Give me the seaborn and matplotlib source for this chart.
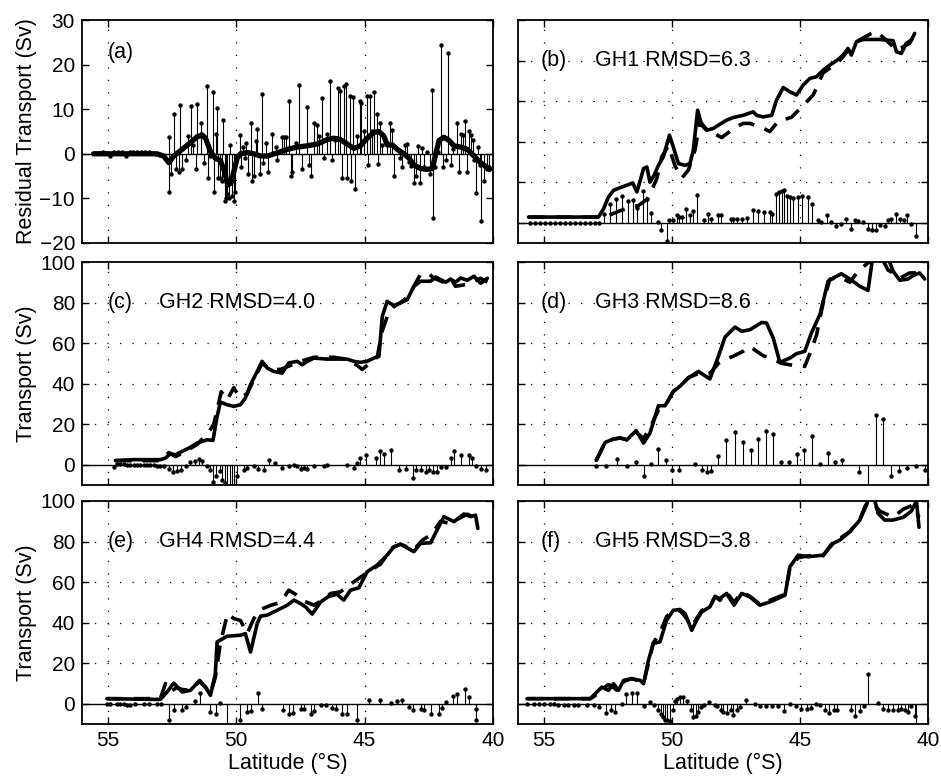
import numpy as np
import pandas as pd
import matplotlib
matplotlib.use("Agg")
import matplotlib.pyplot as plt
import seaborn as sns

# ---------------- DATA ----------------
# (a) residual transport stems and smoothed residual
a_stem_lat = [55.50, 55.35, 55.20, 55.05, 54.90, 54.75, 54.60, 54.45, 54.30, 54.15, 54.00, 53.85,
              53.70, 53.55, 53.40, 53.25, 53.10, 52.95, 52.80,
              52.62, 52.60, 52.53, 52.42, 52.34, 52.23, 52.18, 52.10, 51.95, 51.87, 51.74, 51.66,
              51.57, 51.51, 51.38, 51.35, 51.27, 51.14, 51.10, 51.01, 50.91, 50.87, 50.78, 50.75,
              50.71, 50.61, 50.56, 50.52, 50.45, 50.40, 50.34, 50.27, 50.25, 50.18, 50.09, 50.03,
              49.86, 49.80, 49.75, 49.66, 49.60, 49.55, 49.44, 49.39, 49.31, 49.23, 49.17, 49.08,
              49.01, 48.94, 48.83, 48.75, 48.60, 48.45, 48.40, 48.21, 48.12, 48.05, 47.94, 47.87,
              47.81, 47.68, 47.55, 47.45, 47.26, 47.18, 47.08, 46.95, 46.87, 46.77, 46.64, 46.56,
              46.45, 46.34, 46.27, 46.16, 46.05, 45.95, 45.87, 45.79, 45.71, 45.68, 45.58, 45.52,
              45.45, 45.38, 45.29, 45.19, 45.13, 45.03, 44.92, 44.86, 44.77, 44.70, 44.62, 44.53,
              44.47, 44.38, 44.31, 44.12, 44.01, 43.92, 43.84, 43.62, 43.53, 43.44, 43.36, 43.27,
              43.18, 43.08, 43.01, 42.92, 42.86, 42.75, 42.69, 42.58, 42.45, 42.36, 42.35, 42.25,
              42.14, 42.04, 41.95, 41.84, 41.77, 41.65, 41.56, 41.39, 41.32, 41.23, 41.16, 41.09,
              41.03, 40.95, 40.87, 40.79, 40.74, 40.65, 40.58, 40.52, 40.45, 40.35, 40.25, 40.17]
a_stem_val = [0.2, 0.1, 0.3, 0.2, -0.5, 0.4, 0.3, 0.5, -0.4, 0.5, 0.4, 0.5,
              0.4, 0.4, 0.3, 0.1, 0.0, -0.3, -0.5,
              3.7, -8.6, -4.5, 9.0, -3.5, -4.0, 11.0, -3.5, -1.5, 4.0, 10.7, 2.0,
              -3.5, 11.2, 7.0, 4.5, -2.0, 15.3, -5.5, -0.5, 13.8, -8.5, 4.5, 10.2,
              -5.5, -5.5, -6.0, 7.6, -10.5, -10.0, -9.0, -10.0, 2.0, -9.5, -10.5, -8.5,
              4.3, -3.0, 1.5, -1.0, 2.5, -4.5, 7.0, -6.0, -5.0, 2.8, 5.5, -4.5,
              13.5, -2.0, 2.5, -4.0, 4.5, 1.5, -1.5, 3.8, 3.8, 3.8, 11.8, -5.0,
              -4.0, 2.5, 15.5, -3.5, 10.6, -2.5, -5.0, 7.0, 6.5, 4.0, 12.5, -1.0,
              4.5, 16.3, -1.5, 3.0, 14.8, 14.1, -5.5, 15.2, 15.6, -5.5, 13.0, -6.0,
              12.8, -8.0, 4.0, 11.8, 11.4, 5.0, 12.9, -2.5, 12.9, 5.2, 13.9, 9.0,
              -2.3, 7.0, 2.0, 2.5, 7.0, 5.3, -5.0, -1.0, -3.0, 2.0, 2.2, -1.8,
              -2.8, -6.5, -5.0, 1.7, -6.5, 1.2, -3.0, 0.5, -4.5, 14.2, -14.5, -3.0,
              0.5, 24.4, -3.0, -1.5, 22.5, -2.5, 1.0, 7.0, -4.0, 4.5, 4.3, 7.3,
              -4.0, 5.0, 4.3, 3.0, -1.5, -8.8, 1.5, -2.5, -15.0, -6.0, -3.5, -3.0]
a_smooth_lat = [55.55, 53.08, 52.82, 52.62, 52.43, 52.10, 51.78, 51.52, 51.32, 51.19,
                51.00, 50.81, 50.61, 50.45, 50.33, 50.19, 50.09, 49.96, 49.83, 49.57,
                49.31, 49.05, 48.79, 48.40, 48.01, 47.62, 47.23, 46.84, 46.45, 46.19,
                45.94, 45.68, 45.42, 45.16, 44.90, 44.64, 44.44, 44.25, 44.12, 43.92,
                43.73, 43.47, 43.27, 43.08, 42.82, 42.56, 42.36, 42.23, 42.10, 41.91,
                41.71, 41.52, 41.26, 41.00, 40.74, 40.48, 40.13]
a_smooth_val = [0, 0, -0.5, -2, -0.5, 1, 2.5, 3.8, 4.2, 3.5,
                0.5, -1, -1.5, -4, -7, -6.5, -4, -1, 0, 0.3,
                0, -0.5, -0.5, 0.2, 1, 1.5, 1.8, 2.2, 3.2, 3.5,
                3.2, 2.2, 1.2, 1.8, 3.5, 4.8, 5.0, 4, 2, 2,
                1, 0, -1, -2.5, -3.3, -3.5, -3.3, 0, 3, 3.7,
                3, 1.8, 1.5, 1, -0.5, -2, -3.5]

# (b) GH1
b_obs_lat = [55.59, 52.86, 52.66, 52.47, 52.27, 52.01, 51.75, 51.52, 51.36, 51.23, 51.10, 50.97,
             50.85, 50.69, 50.52, 50.33, 50.09, 49.94, 49.74, 49.48, 49.29, 49.16, 48.99, 48.83,
             48.64, 48.38, 48.12, 47.86, 47.60, 47.21, 46.82, 46.69, 46.43, 46.10, 45.91, 45.65,
             45.39, 45.13, 44.87, 44.61, 44.35, 44.09, 43.83, 43.57, 43.31, 43.12, 42.99, 42.79,
             42.53, 41.88, 41.36, 41.23, 41.04, 40.85, 40.65, 40.52]
b_obs = [2.8, 2.8, 6.9, 12.7, 16, 17.3, 18.5, 19.6, 15.2, 20.9, 26.7, 27.5,
         20, 23.4, 28.3, 32.5, 43.2, 37.4, 29.2, 28.3, 29.2, 35.7, 55.5, 48.1,
         45.6, 46.5, 48.6, 50.6, 51.9, 53, 54.7, 53, 52.2, 53, 60.5, 66.7,
         64.6, 63, 67.9, 71.2, 72, 75.3, 77.8, 79.9, 82.7, 86, 82.7, 89.3,
         90.4, 90.4, 89.8, 84.3, 83.5, 88.5, 90.1, 93.4]
b_est_lat = [55.59, 52.86, 52.47, 52.08, 51.69, 51.30, 50.97, 50.78, 50.58, 50.39, 50.13, 49.87,
             49.61, 49.35, 49.09, 48.90, 48.64, 48.05, 47.53, 47.21, 46.95, 46.43, 46.17, 45.85,
             45.33, 44.94, 44.48, 44.09, 43.51, 43.18, 42.79, 42.21, 42.01, 41.62, 41.23, 40.72, 40.52]
b_est = [2.8, 2.8, 3.5, 5.6, 7.4, 8.5, 11.5, 16, 22, 32.5, 38, 28,
         22, 26, 36, 50, 46, 42, 47, 49, 49, 46.6, 45, 50,
         52, 57, 63, 74, 79, 84, 89.3, 93.4, 94.3, 90, 85, 88.5, 93]
b_res_lat = [55.52, 55.33, 55.13, 54.94, 54.74, 54.55, 54.35, 54.16, 53.96, 53.77, 53.57, 53.38,
             53.18, 52.99, 52.82, 52.64, 52.40, 52.17, 51.95, 51.69, 51.52, 51.36, 51.13, 50.97,
             50.81, 50.55, 50.42, 50.20, 50.09, 49.96, 49.81, 49.70, 49.61, 49.44, 49.29, 49.16,
             49.00, 48.74, 48.60, 48.48, 48.18, 48.09, 47.70, 47.60, 47.44, 47.27, 47.08, 46.84,
             46.62, 46.40, 46.17, 46.08, 45.94, 45.82, 45.71, 45.61, 45.49, 45.39, 45.26, 45.07,
             44.91, 44.68, 44.51, 44.31, 44.16, 43.96, 43.79, 43.60, 43.38, 43.21, 43.01, 42.86,
             42.73, 42.53, 42.34, 42.17, 42.01, 41.88, 41.69, 41.56, 41.43, 41.26, 41.10, 40.95,
             40.81, 40.68, 40.48]
b_res = [-0.3, -0.3, -0.3, -0.3, -0.3, -0.3, -0.3, -0.3, -0.3, -0.3, -0.3, -0.3,
         -0.3, -0.3, -0.3, 4.4, 9.4, 11.9, 13, 10.5, 11.4, 7.4, 15.5, 11.9,
         4.8, 0.2, -3.8, -9, 1.2, 1.2, 3.6, 2.8, 2.8, 6.9, 3.6, 5.8,
         13.5, 1.2, 4.4, 1.6, 3.6, 3.6, 2, 2, 1.6, 2, 2.5, 6.4,
         5.8, 5.3, 5.3, 4.1, 14, 15.2, 15.7, 16, 13, 12.7, 12.4, 12.7,
         13.2, 12.7, 9.1, 1.2, 0.3, 3.6, 0.3, -1.8, -0.8, 2, -3, 1.2,
         0.8, 0.3, -3, -3.8, -3.5, -1.3, -1.8, 1.2, 2, 4.4, 2, 1.5,
         4, -0.8, -6.6]

# (c) GH2
c_obs_lat = [54.70, 53.99, 52.95, 52.75, 52.56, 52.36, 52.10, 51.84, 51.52, 51.13, 50.90, 50.74,
             50.61, 50.35, 50.09, 49.83, 49.64, 49.44, 49.18, 48.99, 48.79, 48.53, 48.21, 47.95,
             47.62, 47.43, 47.23, 46.97, 46.46, 45.68, 45.42, 45.16, 44.90, 44.64, 44.44, 44.31,
             44.12, 43.86, 43.60, 43.34, 43.08, 42.82, 42.43, 42.23, 42.04, 41.84, 41.65, 41.46,
             41.26, 41.00, 40.74, 40.48, 40.22]
c_obs = [2.1, 2.5, 2.5, 3.3, 5.4, 4.9, 6.6, 8.2, 10.7, 12.3, 12, 23.8,
         30.9, 29.6, 28.8, 29.6, 32.9, 39.5, 46, 51, 47.7, 46, 45.2, 50.2,
         51, 49.3, 51, 52.6, 52.1, 52.1, 51, 50.5, 51, 52.6, 53.5, 73.2,
         80.6, 78.5, 79.8, 81.4, 88, 90.5, 90.5, 92.6, 91.3, 90, 91.6, 90,
         92.1, 91, 93, 89.5, 92]
c_est_lat = [54.70, 52.95, 52.62, 52.36, 51.91, 51.52, 51.07, 50.87, 50.58, 50.35, 50.09, 49.86,
             49.57, 49.31, 48.99, 48.66, 48.27, 47.88, 47.49, 46.97, 46.20, 45.68, 45.29, 45.09,
             44.51, 44.31, 44.12, 43.86, 43.60, 43.34, 43.08, 42.82, 42.49, 42.30, 41.91, 41.65,
             41.46, 41.00, 40.48, 40.22]
c_est = [2, 2, 6, 4, 7, 10, 16, 20, 36, 32, 38, 33,
         35, 42, 50, 47, 47, 49, 51, 53, 53, 52, 49, 47,
         53, 66, 73, 78, 80, 82.5, 88, 94, 94.2, 92, 90, 92,
         88, 89, 92, 90]
c_res_lat = [54.77, 54.64, 54.51, 54.38, 54.25, 54.12, 53.99, 53.86, 53.73, 53.60, 53.47, 53.34,
             53.21, 53.08, 52.95, 52.82, 52.62, 52.46, 52.30, 52.14, 51.97, 51.78, 51.62, 51.43,
             51.32, 51.13, 51.03, 50.90, 50.77, 50.64, 50.55, 50.45, 50.35, 50.25, 50.16, 50.07,
             49.96, 49.70, 49.57, 49.31, 49.16, 48.92, 48.73, 48.47, 48.21, 47.95, 47.75, 47.62,
             47.49, 47.36, 47.23, 46.97, 46.58, 46.46, 45.68, 45.42, 45.29, 45.16, 44.96, 44.57,
             44.40, 44.25, 43.99, 43.66, 43.40, 43.12, 42.99, 42.82, 42.62, 42.49, 42.34, 42.17,
             42.04, 41.84, 41.65, 41.52, 41.26, 40.94, 40.81, 40.68, 40.48, 40.29]
c_res = [-1.2, 0.5, 0.5, 0.5, 0.0, 0.0, 0.0, 0.0, 0.0, 0.0, 0.0, 0.0,
         0.0, -0.5, -0.5, -0.8, -2.1, -3.8, -3.3, -2.8, -0.8, 1.3, 1.6, 2.8,
         1.6, -0.8, -2.8, -8.6, -5.8, -3.3, -7.4, -9, -12, -12, -12, -12,
         -5.8, -2.5, -1.6, -0.8, -2.1, -2.5, 2.1, 0.8, -1.6, -0.5, 0.0, -0.5,
         -2, -1.6, -2, -0.5, -0.5, 0.0, 0.0, -1.6, 0.8, 3.3, 4.9, 3.3,
         6.6, 5.4, 7.1, -2.8, -2.1, -6.6, -2.8, -2.5, -3.8, -2.5, -3.8, -3.8,
         -1.2, -1.2, 3.3, 6.6, 4.9, 4.9, 3.3, -0.8, -2.1, -2.8]

# (d) GH3
d_obs_lat = [52.95, 52.60, 52.27, 52.01, 51.75, 51.39, 51.10, 50.85, 50.52, 50.26, 49.94, 49.68,
             49.35, 48.96, 48.51, 48.18, 47.92, 47.53, 47.27, 46.95, 46.69, 46.49, 46.30, 46.04,
             45.78, 45.39, 45.13, 44.81, 44.55, 44.22, 43.90, 43.70, 43.38, 43.05, 42.66, 42.34,
             42.14, 41.62, 41.36, 41.10, 40.78, 40.58, 40.33, 40.13]
d_obs = [2.1, 11, 12.7, 13.2, 12.3, 16.8, 10.7, 15.6, 29.1, 29.1, 36.2, 38.7,
         42.8, 46, 42.3, 53.5, 63, 67.9, 65.8, 66.6, 68.6, 70.2, 69.9, 62.5,
         50.5, 52.6, 54.8, 55.9, 65, 74, 90.5, 92.1, 94.2, 91.6, 88, 86,
         104, 104, 95.4, 91, 91.6, 93.3, 94.6, 91.6]
d_est_lat = [52.95, 52.60, 52.27, 52.01, 51.75, 51.39, 51.10, 50.85, 50.52, 50.26, 49.94, 49.68,
             49.35, 48.96, 48.51, 48.18, 47.92, 47.60, 47.21, 46.95, 46.69, 46.43, 46.04, 45.71,
             45.26, 44.81, 44.55, 44.35, 44.09, 43.83, 43.44, 43.05, 42.73, 42.21, 41.88, 41.56,
             41.36, 41.10, 40.72, 40.13]
d_est = [2, 11, 12.7, 13.2, 12.3, 16, 13, 18, 27, 29, 36, 39,
         43, 45, 45, 50, 52, 53.5, 56, 58.4, 56, 53.8, 52, 50,
         49, 48.5, 56.7, 64, 80, 91.5, 92.5, 90, 95.4, 101, 104, 96,
         94.6, 92, 94.6, 94.6]
d_res_lat = [52.95, 52.56, 52.14, 51.75, 51.39, 51.10, 50.81, 50.52, 50.23, 50.00, 49.70, 49.09,
             48.83, 48.64, 48.48, 48.21, 47.90, 47.53, 47.23, 46.92, 46.62, 46.33, 46.04, 45.74,
             45.42, 45.13, 44.83, 44.52, 44.22, 43.90, 43.64, 43.34, 42.70, 42.36, 42.04, 41.75,
             41.43, 41.13, 40.81, 40.45, 40.13]
d_res = [-0.5, -0.5, 2.8, -0.8, 1.3, -5.8, 0.2, 7.7, 2.1, -2.5, -2.5, 0.5,
         -2.8, -3.8, -3.3, 4.1, 12, 16, 11, 7.4, 12.8, 16.4, 15.3, 1.5,
         1.5, 5.4, 7.4, 14.3, 0.5, 5.8, 1.3, 2.1, -3.8, -12, 24.7, 22.7,
         -5.4, -3.3, -1.6, -0.5, -2.8]

# (e) GH4
e_obs_lat = [55.03, 52.95, 52.69, 52.43, 52.10, 51.78, 51.42, 51.19, 51.00, 50.81, 50.74, 50.35,
             49.83, 49.64, 49.44, 49.18, 49.05, 48.79, 48.40, 48.01, 47.75, 47.49, 47.30, 47.04,
             46.71, 46.39, 46.07, 45.81, 45.55, 45.22, 44.90, 44.51, 44.12, 43.86, 43.60, 43.08,
             42.82, 42.43, 41.91, 41.52, 41.13, 40.87, 40.68, 40.59]
e_obs = [2.5, 2.1, 5.8, 10.2, 5.8, 6.6, 11.5, 8.2, 4.1, 14.8, 30.5, 33.3,
         33.8, 34.6, 25.5, 39.5, 43.2, 43.7, 46.1, 48.6, 51.1, 49.4, 47.8, 44.2,
         50.2, 53, 54, 51.1, 56, 57.2, 65.1, 68.4, 73.3, 77.4, 78.7, 75,
         79.1, 79.4, 92.3, 89.8, 93.6, 92.3, 93, 86.5]
e_est_lat = [55.03, 52.95, 52.75, 52.56, 52.30, 52.10, 51.78, 51.42, 51.19, 51.00, 50.81, 50.61,
             50.42, 50.33, 50.09, 49.83, 49.57, 49.31, 49.05, 48.66, 48.27, 47.95, 47.69, 47.43,
             46.97, 46.65, 46.32, 45.94, 45.42, 44.90, 44.38, 43.92, 43.60, 43.08, 42.75, 42.43,
             42.04, 41.71, 41.39, 41.00, 40.61]
e_est = [2.5, 2.5, 10, 6, 8, 7, 6.6, 11, 8, 5, 13, 30,
         40, 44.5, 42, 41, 34.6, 42, 46.5, 48.5, 50, 56, 54, 51,
         48.6, 51, 54.4, 55.2, 60.1, 64.7, 68.9, 76.9, 78.7, 76, 80.7, 83.2,
         90, 89, 91, 93.5, 91]
e_res_lat = [55.03, 54.92, 54.64, 54.53, 54.38, 54.25, 54.12, 53.92, 53.60, 53.40, 53.08, 52.91,
             52.60, 52.43, 52.10, 51.95, 51.61, 51.42, 51.03, 50.77, 50.61, 50.35, 49.86, 49.57,
             49.44, 49.14, 49.01, 48.18, 47.95, 47.78, 47.49, 47.36, 47.10, 46.95, 46.69, 46.52,
             46.26, 46.10, 45.87, 45.68, 45.29, 44.83, 44.38, 43.99, 43.73, 43.56, 43.27, 43.12,
             42.82, 42.69, 42.43, 42.10, 41.97, 41.82, 41.56, 41.39, 41.09, 40.94, 40.68, 40.65]
e_res = [-0.3, -0.3, -0.3, -0.3, -0.3, -0.8, -0.8, -0.3, 0.0, 0.0, 0.0, -0.3,
         -8.2, -3.3, -3.3, -1.6, 1.3, 5.3, -4.3, -5.3, 0.5, -12, -8.2, -4.1,
         -3.8, 5.4, -2.5, -3.3, -5.3, -4.6, -2.8, -2.8, -4.9, -3.8, -0.8, -0.8,
         -2.1, -2.5, -5.3, -5.3, -7.9, 1.6, 2, 0.3, 1.3, 1.6, -1.6, -3.3,
         -2.5, -3.3, -5.3, -5.3, -2, 0.8, 3.8, 4.6, 7.4, 3.3, -2.5, -8.2]

# (f) GH5
f_obs_lat = [55.65, 53.18, 52.99, 52.73, 52.47, 52.27, 52.08, 51.88, 51.56, 51.23, 51.10, 50.91,
             50.72, 50.46, 50.20, 49.94, 49.68, 49.48, 49.22, 49.03, 48.83, 48.51, 48.31, 48.12,
             47.86, 47.57, 47.27, 46.95, 46.56, 46.17, 45.58, 45.39, 45.07, 44.68, 44.09, 43.70,
             43.44, 43.05, 42.66, 42.40, 42.27, 42.08, 41.95, 41.69, 41.36, 40.96, 40.65, 40.45, 40.35]
f_obs = [2.5, 2.5, 4.9, 8.2, 6.6, 9.9, 6.6, 11.5, 12.4, 11.5, 9.9, 21.4,
         29.7, 30.5, 41.2, 46.1, 46.5, 44.5, 36.2, 41.2, 45.3, 47.8, 52.7, 51.9,
         54.4, 48.6, 54.4, 52.7, 48.6, 50.2, 53.5, 67.5, 73.3, 72.5, 73.3, 79.1,
         80.7, 84.8, 90.6, 98, 104, 100.5, 93.9, 90.6, 90.6, 92, 95, 100, 87]
f_est_lat = [55.65, 53.18, 52.99, 52.73, 52.47, 52.27, 52.08, 51.88, 51.56, 51.23, 51.10, 50.91,
             50.72, 50.46, 50.20, 49.94, 49.68, 49.48, 49.22, 49.03, 48.83, 48.51, 48.31, 48.12,
             47.86, 47.57, 47.27, 46.95, 46.56, 46.17, 45.58, 45.39, 45.07, 44.68, 44.09, 43.70,
             43.44, 43.05, 42.66, 42.40, 42.08, 41.88, 41.36, 40.96, 40.58, 40.35]
f_est = [2.5, 2.5, 4, 7, 9.5, 8, 6, 11, 12.4, 11, 10, 20,
         30, 35, 43, 46, 46, 43, 38, 42, 46, 48, 53, 51,
         55, 50, 55, 53, 49, 51, 54, 67, 72, 73, 73, 80,
         81.5, 85, 91, 99, 98, 95, 92, 96, 98, 92]
f_res_lat = [55.65, 55.39, 55.20, 55.00, 54.77, 54.58, 54.42, 54.22, 54.03, 53.83, 53.64, 53.31,
             53.05, 52.83, 52.57, 52.38, 52.21, 51.95, 51.79, 51.56, 51.34, 51.10, 50.85, 50.69,
             50.52, 50.43, 50.35, 50.26, 50.17, 50.07, 49.96, 49.87, 49.78, 49.68, 49.57, 49.39,
             49.26, 49.16, 49.05, 48.96, 48.86, 48.74, 48.53, 48.31, 48.22, 48.09, 47.99, 47.86,
             47.70, 47.60, 47.47, 47.34, 47.12, 46.75, 46.56, 46.34, 46.10, 45.87, 45.61, 45.39,
             45.17, 44.94, 44.74, 44.55, 44.39, 44.20, 44.03, 43.87, 43.68, 43.57, 42.99, 42.83,
             42.66, 42.51, 42.34, 41.95, 41.75, 41.56, 41.36, 41.17, 41.04, 40.91, 40.78, 40.65,
             40.52, 40.45]
f_res = [-0.3, -0.3, -0.3, -0.3, 0.0, 0.0, -0.6, -0.6, -0.6, -0.6, -0.6, -0.6,
         -0.6, -1.6, -4.6, -3.3, -4.1, 0.0, 4.6, 5.3, 5.3, -1.3, 0.8, -0.8,
         -3.3, -4.9, -6.6, -7.9, -8.2, -8.6, -3.3, 1.3, 2.5, 3.3, 3.3, 1.3,
         -3.3, -6.6, -6.3, -4.1, -1.6, -0.8, 0.8, -0.8, -1.3, -3.3, -4.1, -4.6,
         -3.3, -5.8, -3.3, -1.6, 2, 0.0, -1.3, -1.3, -1.3, -1.3, -3.6, 0.0,
         -1.3, -2.5, -2.5, -2, 0.0, -0.8, -3.3, -4.6, -3.3, -3.3, -3.3, -6.3,
         -3.6, -1.3, 14.5, 0.3, -2.5, -3.3, -3.3, -3.3, -2.8, -3.3, -4.1, -1.3,
         -6.3, -13]

panel_labels = ["(a)", "(b)", "(c)", "(d)", "(e)", "(f)"]
gh_labels = ["", "GH1 RMSD=6.3", "GH2 RMSD=4.0", "GH3 RMSD=8.6", "GH4 RMSD=4.4", "GH5 RMSD=3.8"]
x_ticks = [55, 50, 45, 40]
a_yticks = [-20, -10, 0, 10, 20, 30]
t_yticks = [0, 20, 40, 60, 80, 100]

# ---------------- STYLE ----------------
sns.set_theme(style="white")
plt.rcParams["font.family"] = ["Liberation Sans", "DejaVu Sans"]
plt.rcParams["axes.unicode_minus"] = True
plt.rcParams["text.color"] = "black"
plt.rcParams["axes.labelcolor"] = "black"
plt.rcParams["xtick.color"] = "black"
plt.rcParams["ytick.color"] = "black"

W, H = 941, 777
fig = plt.figure(figsize=(W / 100, H / 100), dpi=100)


def box(x0, y0, x1, y1):
    return [x0 / W, 1 - y1 / H, (x1 - x0) / W, (y1 - y0) / H]


col_x = [(82, 493), (518, 928)]
row_y = [(20, 243), (262, 485), (501, 724)]
axes = []
for r in range(3):
    for c in range(2):
        x0, x1 = col_x[c]
        y0, y1 = row_y[r]
        axes.append(fig.add_axes(box(x0, y0, x1, y1)))

LW = 2.6
DASH = (4.5, 3.0)
grid_kw = dict(color="black", lw=0.9, ls=(0, (1, 9)), zorder=0.5)
FS = 15.5


def style_axis(ax, ylim, yticks, grid_y, show_xlabels, show_ylabels):
    ax.set_xlim(56, 40)
    ax.set_ylim(*ylim)
    ax.set_xticks(x_ticks)
    ax.set_yticks(yticks)
    for xv in [55, 50, 45]:
        ax.axvline(xv, **grid_kw)
    for yv in grid_y:
        ax.axhline(yv, **grid_kw)
    ax.tick_params(direction="in", length=5, width=1, top=True, right=True,
                   bottom=True, left=True, labelsize=15, colors="black", pad=5)
    if not show_xlabels:
        ax.set_xticklabels([])
    if not show_ylabels:
        ax.set_yticklabels([])
    for s in ax.spines.values():
        s.set_color("black")
        s.set_linewidth(1.3)
    ax.set_xlabel("")
    ax.set_ylabel("")


def draw_stems(ax, lat, val):
    ax.vlines(lat, 0, val, colors="black", lw=0.8, zorder=2)
    sns.scatterplot(x=lat, y=val, ax=ax, color="black", s=10, linewidth=0, zorder=3, legend=False)


# (a)
ax = axes[0]
ax.axhline(0, color="black", lw=1.0, zorder=1)
draw_stems(ax, a_stem_lat, a_stem_val)
sns.lineplot(x=a_smooth_lat, y=a_smooth_val, ax=ax, sort=False, estimator=None,
             color="black", lw=3.8, zorder=4)
style_axis(ax, (-20, 30), a_yticks, [], False, True)
ax.set_ylabel("Residual Transport (Sv)", fontsize=FS, labelpad=2)
ax.text(55, 22.7, panel_labels[0], fontsize=FS, ha="left", va="center")

panels = [
    (b_obs_lat, b_obs, b_est_lat, b_est, b_res_lat, b_res),
    (c_obs_lat, c_obs, c_est_lat, c_est, c_res_lat, c_res),
    (d_obs_lat, d_obs, d_est_lat, d_est, d_res_lat, d_res),
    (e_obs_lat, e_obs, e_est_lat, e_est, e_res_lat, e_res),
    (f_obs_lat, f_obs, f_est_lat, f_est, f_res_lat, f_res),
]
for i, (olat, oval, elat, evals, rlat, rval) in enumerate(panels, start=1):
    ax = axes[i]
    ax.axhline(0, color="black", lw=1.0, zorder=1)
    draw_stems(ax, rlat, rval)
    sns.lineplot(x=elat, y=evals, ax=ax, sort=False, estimator=None,
                 color="black", lw=LW, zorder=4)
    ax.lines[-1].set_dashes(DASH)
    ax.lines[-1].set_dash_capstyle("butt")
    sns.lineplot(x=olat, y=oval, ax=ax, sort=False, estimator=None,
                 color="black", lw=LW, zorder=5)
    left = (i % 2 == 0)
    bottom = i >= 4
    style_axis(ax, (-10, 100), t_yticks, [20, 40, 60, 80], bottom, left)
    xl = 55.0 if left else 55.1
    ax.text(xl, 80, panel_labels[i], fontsize=FS, ha="left", va="center")
    ax.text(53.0, 80, gh_labels[i], fontsize=FS, ha="left", va="center")
    if left:
        ax.set_ylabel("Transport (Sv)", fontsize=FS, labelpad=2)
    if bottom:
        ax.set_xlabel("Latitude (°S)", fontsize=FS, labelpad=2)

fig.savefig("out.png", dpi=100)
